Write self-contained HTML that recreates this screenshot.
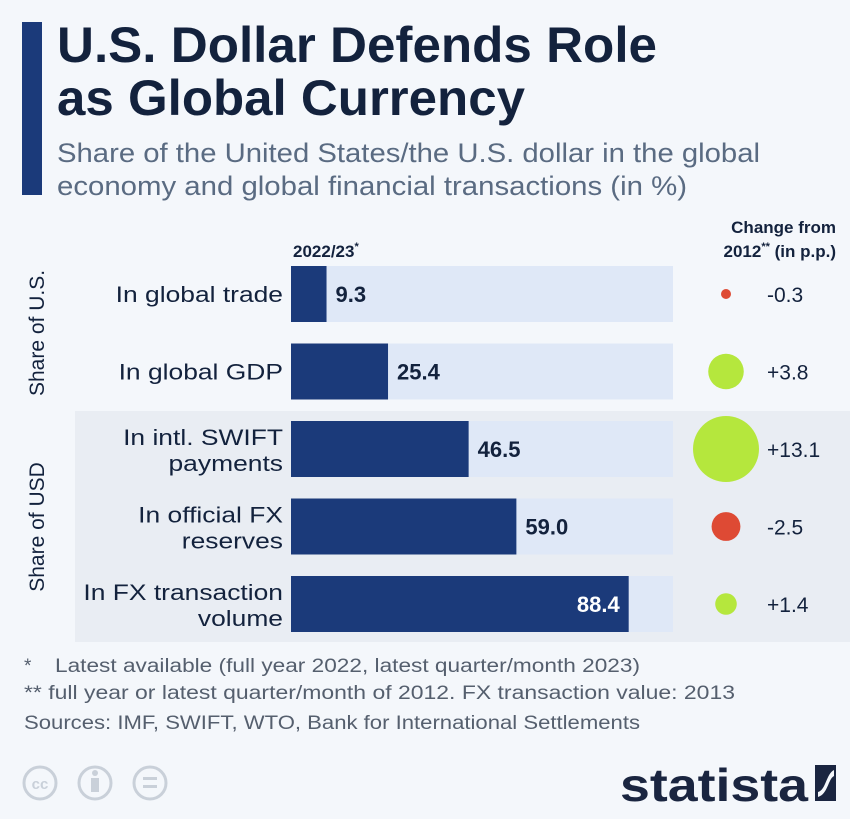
<!DOCTYPE html>
<html><head><meta charset="utf-8"><style>
html,body{margin:0;padding:0;background:#f4f7fb;}
svg{display:block;font-family:"Liberation Sans",sans-serif;}
</style></head><body>
<svg id="chart" width="850" height="819" viewBox="0 0 850 819">
<rect width="850" height="819" fill="#f4f7fb"/>
<rect x="22" y="22" width="20" height="173" fill="#1b3a7a"/>
<text x="57" y="62" font-size="50" font-weight="bold" fill="#13223d" textLength="600" lengthAdjust="spacingAndGlyphs">U.S. Dollar Defends Role</text>
<text x="57" y="115" font-size="50" font-weight="bold" fill="#13223d" textLength="468" lengthAdjust="spacingAndGlyphs">as Global Currency</text>
<text x="57" y="162" font-size="27" fill="#5a6b82" textLength="703" lengthAdjust="spacingAndGlyphs">Share of the United States/the U.S. dollar in the global</text>
<text x="57" y="195" font-size="27" fill="#5a6b82" textLength="630" lengthAdjust="spacingAndGlyphs">economy and global financial transactions (in %)</text>
<rect x="75" y="411" width="775" height="231" fill="#e9edf3"/>
<text x="293" y="257" font-size="17" font-weight="bold" fill="#13223d">2022/23<tspan font-size="11" dy="-7">*</tspan></text>
<text x="836" y="233" font-size="17" font-weight="bold" fill="#13223d" text-anchor="end">Change from</text>
<text x="836" y="257" font-size="17" font-weight="bold" fill="#13223d" text-anchor="end">2012<tspan font-size="11" dy="-7">**</tspan><tspan dy="7"> (in p.p.)</tspan></text>
<text transform="translate(44,333) rotate(-90)" font-size="21" fill="#13223d" text-anchor="middle">Share of U.S.</text>
<text transform="translate(44,527) rotate(-90)" font-size="21" fill="#13223d" text-anchor="middle">Share of USD</text>
<g id="rows"></g>
<text x="24" y="672" font-size="19" fill="#555f6e">*</text>
<text x="55" y="672" font-size="19" fill="#555f6e" textLength="585" lengthAdjust="spacingAndGlyphs">Latest available (full year 2022, latest quarter/month 2023)</text>
<text x="24" y="699" font-size="19" fill="#555f6e" textLength="711" lengthAdjust="spacingAndGlyphs">** full year or latest quarter/month of 2012. FX transaction value: 2013</text>
<text x="24" y="729" font-size="19" fill="#555f6e" textLength="616" lengthAdjust="spacingAndGlyphs">Sources: IMF, SWIFT, WTO, Bank for International Settlements</text>
<g fill="none" stroke="#c9d0d9" stroke-width="3">
<circle cx="40" cy="783" r="16"/><circle cx="95" cy="783" r="16"/><circle cx="150" cy="783" r="16"/>
</g>
<text x="40" y="789" font-size="15" font-weight="bold" fill="#c9d0d9" text-anchor="middle">cc</text>
<rect x="91" y="778" width="8" height="14" fill="#c9d0d9"/><circle cx="95" cy="773" r="3" fill="#c9d0d9"/>
<rect x="143" y="777" width="14" height="3" fill="#c9d0d9"/><rect x="143" y="785" width="14" height="3" fill="#c9d0d9"/>
<text x="620" y="801" font-size="46" font-weight="bold" fill="#1a2540" textLength="188" lengthAdjust="spacingAndGlyphs">statista</text>
<rect x="815" y="765" width="21" height="36" fill="#1a2540"/>
<path d="M818 792 C826 790 826 774 834 770 L834 776 C828 779 828 794 818 797Z" fill="#f4f7fb"/>
</svg>
<script>
const categories1 = ["In global trade","In global GDP","In intl. SWIFT","In official FX","In FX transaction"];
const categories2 = ["","","payments","reserves","volume"];
const shareValues = [9.3, 25.4, 46.5, 59.0, 88.4];
const changeValues = [-0.3, 3.8, 13.1, -2.5, 1.4];
const changeLabels = ["-0.3","+3.8","+13.1","-2.5","+1.4"];

const NS = "http://www.w3.org/2000/svg";
const g = document.getElementById('rows');
const x0 = 291, xFull = 382;
const xScale = v => v / 100 * xFull;
const yRow = i => 266 + i * 77.5;
const rMax = 33, vMax = 13.1;
const rScale = v => rMax * Math.sqrt(Math.abs(v) / vMax);
function mk(tag, attrs, text){
  const e = document.createElementNS(NS, tag);
  for (const k in attrs) e.setAttribute(k, attrs[k]);
  if (text !== undefined) e.textContent = text;
  g.appendChild(e); return e;
}
function widen(el){
  const L = el.getComputedTextLength();
  if (L > 0) { el.setAttribute('textLength', (L * 1.2).toFixed(1)); el.setAttribute('lengthAdjust', 'spacingAndGlyphs'); }
}
shareValues.forEach((v, i) => {
  const y = yRow(i), h = 56, cy = y + h / 2;
  const t = mk('rect', {x: x0, y: y, width: xFull, height: h, fill: '#dfe8f7'});
  
  
  const w = xScale(v);
  const b = mk('rect', {x: x0, y: y, width: w, height: h, fill: '#1b3a7a'});
  
  
  const inside = v > 80;
  const vl = mk('text', {x: inside ? x0 + w - 9 : x0 + w + 9, y: cy + 8, 'font-size': 22, 'font-weight': 'bold', fill: inside ? '#ffffff' : '#13223d', 'text-anchor': inside ? 'end' : 'start'}, v.toFixed(1));
  
  
  if (categories2[i]) {
    const l1 = mk('text', {x: 283, y: cy - 4, 'font-size': 22, fill: '#13223d', 'text-anchor': 'end'}, categories1[i]);
    
    
    widen(l1);
    const l2 = mk('text', {x: 283, y: cy + 22, 'font-size': 22, fill: '#13223d', 'text-anchor': 'end'}, categories2[i]);
    
    
    widen(l2);
  } else {
    const l = mk('text', {x: 283, y: cy + 8, 'font-size': 22, fill: '#13223d', 'text-anchor': 'end'}, categories1[i]);
    
    
    widen(l);
  }
  const c = changeValues[i];
  const bub = mk('circle', {cx: 726, cy: cy, r: rScale(c), fill: c >= 0 ? '#b5e73d' : '#de4a34'});
  
  
  const cl = mk('text', {x: 767, y: cy + 8, 'font-size': 21, fill: '#13223d'}, changeLabels[i]);
  
  
});
</script>
</body></html>
